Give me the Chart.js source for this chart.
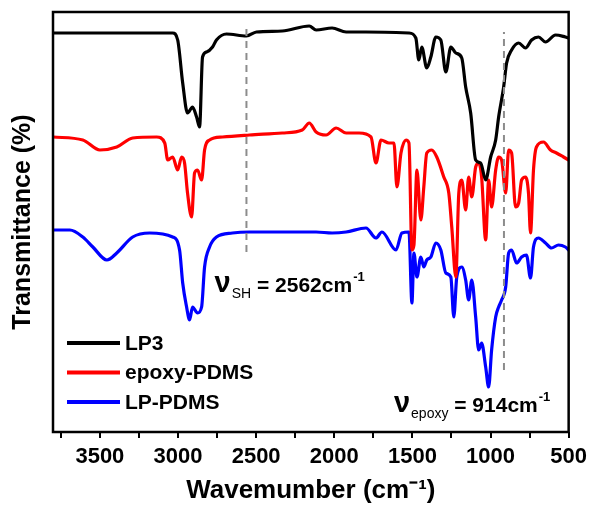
<!DOCTYPE html>
<html>
<head>
<meta charset="utf-8">
<script src="https://cdn.jsdelivr.net/npm/chart.js"></script>
<style>
  html, body { margin: 0; padding: 0; background: #fff; }
  canvas { display: block; }
</style>
</head>
<body>
<canvas id="ftir" width="593" height="508"></canvas>
<script>
// =================== DATA (offset spectra in a.u.) ===================
const seriesNames = ["LP3", "epoxy-PDMS", "LP-PDMS"];
const seriesColors = ["#000000", "#ff0000", "#0000ff"];

const lp3Wn = [3800, 3372, 3034, 3002, 2970, 2939, 2907, 2881, 2862, 2843, 2817, 2779, 2754, 2690,
  2562, 2498, 2333, 2160, 2116, 2014, 1924, 1797, 1522, 1478, 1459, 1440, 1408, 1382, 1350, 1318,
  1286, 1254, 1222, 1184, 1159, 1127, 1095, 1063, 1031, 999, 967, 948, 916, 897, 865, 820, 776,
  737, 693, 648, 584, 521, 500];
const lp3T = [399, 399, 399, 392, 349, 319, 325, 315, 305, 375, 380, 385, 392, 398,
  396, 400, 401, 406, 402, 404, 400, 400, 399, 394, 372, 385, 364, 375, 395, 392,
  360, 385, 379, 374, 345, 319, 272, 269, 252, 275, 292, 315, 345, 369, 382, 389, 384,
  392, 395, 390, 397, 395, 394];

const epoxyWn = [3800, 3609, 3500, 3392, 3290, 3137, 3085, 3066, 3034, 3002, 2977, 2958, 2939, 2913,
  2894, 2875, 2849, 2830, 2798, 2715, 2543, 2333, 2205, 2160, 2116, 2052, 1988, 1924, 1841, 1765,
  1733, 1701, 1650, 1618, 1599, 1573, 1541, 1522, 1503, 1490, 1471, 1446, 1427, 1408, 1376, 1344,
  1299, 1267, 1248, 1222, 1203, 1184, 1159, 1140, 1120, 1095, 1076, 1057, 1031, 1012, 993, 967,
  948, 929, 903, 884, 865, 840, 820, 801, 776, 757, 744, 725, 706, 661, 616, 578, 533, 500];
const epoxyT = [295, 292, 282, 285, 294, 295, 289, 272, 275, 262, 275, 269, 239, 215,
  259, 262, 252, 282, 292, 295, 297, 299, 302, 309, 300, 297, 304, 299, 299, 295,
  269, 292, 289, 289, 245, 279, 292, 289, 182, 187, 262, 212, 245, 279, 282, 275,
  255, 239, 205, 155, 239, 252, 222, 255, 235, 265, 269, 255, 192, 252, 225, 262,
  275, 272, 239, 282, 279, 225, 229, 252, 255, 239, 199, 262, 285, 290, 282, 279, 275, 272];

const lpPdmsWn = [3800, 3692, 3609, 3545, 3455, 3392, 3290, 3181, 3034, 2990, 2970, 2945, 2926, 2907,
  2875, 2849, 2830, 2798, 2754, 2652, 2543, 2333, 2116, 2014, 1924, 1797, 1733, 1695, 1605, 1567,
  1522, 1503, 1490, 1471, 1446, 1427, 1408, 1382, 1350, 1318, 1286, 1254, 1235, 1216, 1184, 1159,
  1140, 1120, 1095, 1076, 1057, 1031, 1012, 993, 967, 948, 929, 903, 884, 865, 833, 801, 770,
  744, 725, 693, 648, 610, 565, 521, 500];
const lpPdmsT = [202, 202, 195, 185, 172, 179, 195, 199, 195, 182, 149, 125, 112, 125,
  119, 125, 165, 185, 195, 199, 200, 200, 200, 199, 200, 204, 194, 200, 182, 199,
  200, 129, 179, 155, 175, 165, 172, 175, 189, 182, 159, 155, 115, 155, 165, 152,
  132, 152, 115, 82, 89, 65, 45, 82, 115, 125, 132, 145, 179, 182, 169, 175, 177,
  154, 185, 194, 189, 184, 187, 185, 182];

// marker lines (wavenumber, from, to) and their labels
const markWn = [2562, 914];
const markFrom = [180, 62];
const markTo = [405, 400];
const markSub = ["SH", "epoxy"];
const markText = [" = 2562cm", " = 914cm"];
const markAtWn = [2766, 1618];
const markAtT = [140, 20];

const xTickValues = [3750, 3500, 3250, 3000, 2750, 2500, 2250, 2000, 1750, 1500, 1250, 1000, 750, 500];

// =================== HELPERS ===================
const FONT = "'Liberation Sans', Arial, sans-serif";

function toPoints(xs, ys) {
  return xs.map((x, i) => ({ x: x, y: ys[i] }));
}

const spectra = [[lp3Wn, lp3T], [epoxyWn, epoxyT], [lpPdmsWn, lpPdmsT]];
const datasets = spectra.map((s, i) => ({
  label: seriesNames[i],
  data: toPoints(s[0], s[1]),
  borderColor: seriesColors[i],
  borderWidth: 3.2,
  cubicInterpolationMode: "monotone",
  borderJoinStyle: "round",
  borderCapStyle: "round",
  order: i + 1,
}));
markWn.forEach((wn, i) => {
  datasets.push({
    data: [{ x: wn, y: markFrom[i] }, { x: wn, y: markTo[i] }],
    borderColor: "#8c8c8c",
    borderWidth: 2,
    borderDash: [7, 5],
    order: 0,
  });
});

// =================== PLUGINS ===================
const framePlugin = {
  id: "frame",
  afterDraw(chart) {
    const a = chart.chartArea;
    const c = chart.ctx;
    c.save();
    c.strokeStyle = "#000";
    c.lineWidth = 2.5;
    c.strokeRect(a.left, a.top, a.right - a.left, a.bottom - a.top);
    c.restore();
  },
};

const legendPlugin = {
  id: "insideLegend",
  afterDraw(chart) {
    const a = chart.chartArea;
    const c = chart.ctx;
    c.save();
    c.font = "bold 21px " + FONT;
    c.textBaseline = "middle";
    chart.data.datasets.filter((d) => d.label).forEach((d, i) => {
      const y = a.top + 331 + i * 29.5;
      c.strokeStyle = d.borderColor;
      c.lineWidth = 4;
      c.beginPath();
      c.moveTo(a.left + 14, y);
      c.lineTo(a.left + 67, y);
      c.stroke();
      c.fillStyle = "#000";
      c.fillText(d.label, a.left + 72, y + 1);
    });
    c.restore();
  },
};

const notePlugin = {
  id: "notes",
  afterDraw(chart) {
    const c = chart.ctx;
    const xs = chart.scales.x;
    const ys = chart.scales.y;
    c.save();
    c.fillStyle = "#000";
    c.textBaseline = "alphabetic";
    markSub.forEach((sub, i) => {
      let x = xs.getPixelForValue(markAtWn[i]);
      const y = ys.getPixelForValue(markAtT[i]);
      c.font = "bold 29px " + FONT;
      c.fillText("\u03bd", x, y);
      x += c.measureText("\u03bd").width + 1;
      c.font = "14px " + FONT;
      c.fillText(sub, x, y + 6);
      x += c.measureText(sub).width;
      c.font = "bold 21px " + FONT;
      c.fillText(markText[i], x, y);
      x += c.measureText(markText[i]).width + 1;
      c.font = "bold 13px " + FONT;
      c.fillText("-1", x, y - 11);
    });
    c.restore();
  },
};

// =================== CHART ===================
const ctx = document.getElementById("ftir");
const chart = new Chart(ctx, {
  type: "line",
  data: { datasets: datasets },
  options: {
    responsive: false,
    animation: false,
    layout: { padding: { left: 0, right: 23, top: 12, bottom: 0 } },
    elements: { point: { radius: 0 }, line: { tension: 0 } },
    plugins: { legend: { display: false }, tooltip: { enabled: false } },
    scales: {
      x: {
        type: "linear",
        reverse: true,
        min: 500,
        max: 3800,
        afterBuildTicks: (scale) => {
          scale.ticks = xTickValues.map((v) => ({ value: v }));
        },
        afterFit: (scale) => {
          scale.height = 76;
        },
        border: { display: false },
        grid: {
          display: true,
          drawOnChartArea: false,
          drawTicks: true,
          tickLength: 6,
          color: "#000",
          lineWidth: 2,
        },
        ticks: {
          autoSkip: false,
          maxRotation: 0,
          padding: 6,
          color: "#000",
          font: { family: FONT, size: 22, weight: "bold" },
          callback: (v) => (v % 500 === 0 ? String(v) : ""),
        },
        title: {
          display: true,
          text: "Wavemumber (cm\u207b\u00b9)",
          color: "#000",
          font: { family: FONT, size: 26, weight: "bold" },
          padding: { top: 0, bottom: 2 },
        },
      },
      y: {
        min: 0,
        max: 420,
        afterFit: (scale) => {
          scale.width = 53;
        },
        border: { display: false },
        grid: { display: false },
        ticks: { display: false },
        title: {
          display: true,
          text: "Transmittance (%)",
          color: "#000",
          font: { family: FONT, size: 25, weight: "bold" },
          padding: { top: 8, bottom: 0 },
        },
      },
    },
  },
  plugins: [framePlugin, legendPlugin, notePlugin],
});
</script>
</body>
</html>
